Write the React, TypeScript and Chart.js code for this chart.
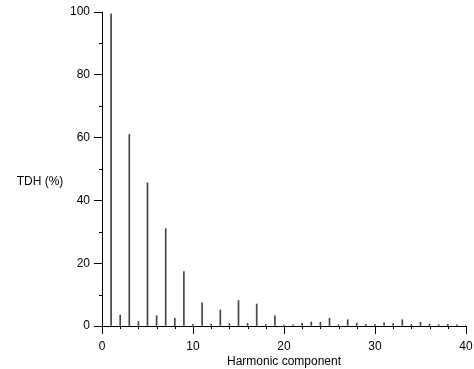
import React, { useEffect, useRef } from "react";
import { Chart, registerables } from "chart.js";

Chart.register(...registerables);

const harmonics = [
  1, 2, 3, 4, 5, 6, 7, 8, 9, 10, 11, 12, 13, 14, 15, 16, 17, 18, 19, 20,
  21, 22, 23, 24, 25, 26, 27, 28, 29, 30, 31, 32, 33, 34, 35, 36, 37, 38, 39, 40,
];
const tdhValues = [
  99.4, 3.5, 61, 1.4, 45.6, 3.3, 31, 2.5, 17.3, 0.5, 7.4, 0.6, 5.1, 0.8, 8.1, 0.8, 7.0, 0.5, 3.2, 0.3,
  0.4, 0.9, 1.3, 1.2, 2.5, 0.4, 2.0, 0.9, 0.5, 0.5, 1.0, 0.8, 2.0, 0.5, 1.2, 0.6, 0.4, 0.5, 0.4, 0.3,
];
const xMajorTicks = [0, 10, 20, 30, 40];
const yMajorTicks = [0, 20, 40, 60, 80, 100];

const xTitle = "Harmonic component";
const yTitle = "TDH (%)";

const FONT = "'Liberation Sans', Arial, Helvetica, sans-serif";

const extrasPlugin = {
  id: "extras",
  afterDraw(chart: any) {
    const ctx = chart.ctx;
    const xs = chart.scales.x;
    const ys = chart.scales.y;
    ctx.save();
    ctx.strokeStyle = "#000";
    ctx.lineWidth = 1;
    ctx.beginPath();
    for (let v = 0; v <= 40; v += 2) {
      if (xMajorTicks.includes(v)) continue;
      const px = Math.round(xs.getPixelForValue(v)) + 0.5;
      ctx.moveTo(px, ys.bottom);
      ctx.lineTo(px, ys.bottom + 3);
    }
    for (let v = 0; v <= 100; v += 10) {
      if (yMajorTicks.includes(v)) continue;
      const py = Math.round(ys.getPixelForValue(v)) + 0.5;
      ctx.moveTo(xs.left - 3, py);
      ctx.lineTo(xs.left, py);
    }
    ctx.stroke();
    ctx.fillStyle = "#000";
    ctx.font = `12px ${FONT}`;
    ctx.textAlign = "center";
    ctx.textBaseline = "middle";
    ctx.fillText(yTitle, 40, ys.getPixelForValue(46));
    ctx.restore();
  },
};

export default function App() {
  const ref = useRef<HTMLCanvasElement | null>(null);
  useEffect(() => {
    document.body.style.margin = "0";
    const canvas = ref.current;
    if (!canvas) return;
    const chart = new Chart(canvas, {
      type: "bar",
      data: {
        datasets: [
          {
            data: harmonics.map((h, i) => ({ x: h, y: tdhValues[i] })),
            backgroundColor: "#444",
            borderWidth: 0,
            barThickness: 1,
          },
        ],
      },
      options: {
        responsive: false,
        animation: false,
        layout: { padding: { top: 12, right: 8, left: 0, bottom: 0 } },
        plugins: { legend: { display: false }, tooltip: { enabled: false } },
        scales: {
          x: {
            type: "linear",
            min: 0,
            max: 40,
            offset: false,
            afterFit: (s: any) => {
              s.height = 43;
              s.paddingLeft = 0;
              s.paddingRight = 0;
            },
            border: { display: true, color: "#000", width: 1 },
            grid: {
              display: true,
              drawOnChartArea: false,
              drawTicks: true,
              tickLength: 8,
              offset: false,
              color: (c: any) => (xMajorTicks.includes(c.tick?.value) ? "#000" : "rgba(0,0,0,0)"),
            },
            ticks: {
              stepSize: 2,
              autoSkip: false,
              maxRotation: 0,
              padding: 5,
              color: "#000",
              font: { family: FONT, size: 12 },
              callback: (v: any) => (xMajorTicks.includes(v) ? String(v) : ""),
            },
            title: {
              display: true,
              text: xTitle,
              color: "#000",
              font: { family: FONT, size: 12 },
              padding: { top: 0, bottom: 0 },
            },
          },
          y: {
            min: 0,
            max: 100,
            afterFit: (s: any) => {
              s.width = 102;
              s.paddingTop = 0;
              s.paddingBottom = 0;
            },
            border: { display: true, color: "#000", width: 1 },
            grid: {
              display: true,
              drawOnChartArea: false,
              drawTicks: true,
              tickLength: 8,
              color: (c: any) => (yMajorTicks.includes(c.tick?.value) ? "#000" : "rgba(0,0,0,0)"),
            },
            ticks: {
              stepSize: 10,
              autoSkip: false,
              padding: 4,
              color: "#000",
              font: { family: FONT, size: 12 },
              callback: (v: any) => (yMajorTicks.includes(v) ? String(v) : ""),
            },
          },
        },
      },
      plugins: [extrasPlugin],
    });
    return () => chart.destroy();
  }, []);
  return (
    <div style={{ width: 474, height: 369 }}>
      <canvas ref={ref} width={474} height={369} />
    </div>
  );
}
